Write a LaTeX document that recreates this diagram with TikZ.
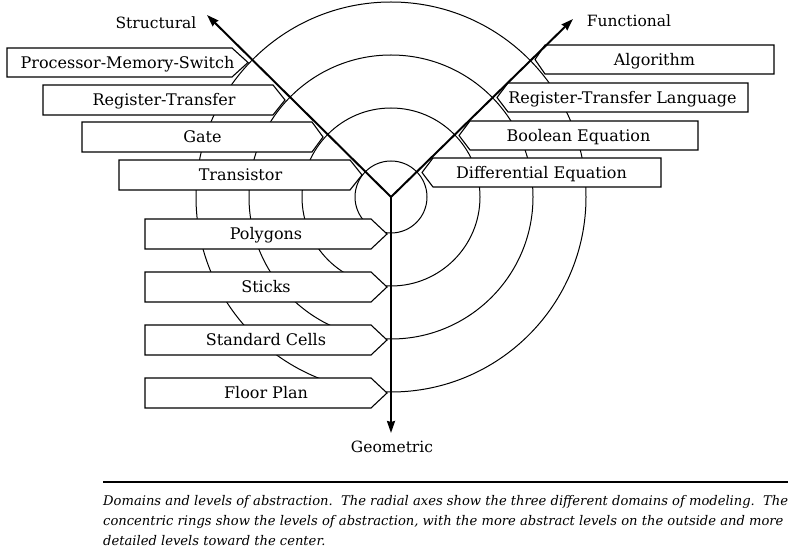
\documentclass[tikz,border=0pt]{standalone}
\usepackage{fontspec}
\usepackage{graphicx}
\setmainfont{DejaVu Serif}
\usetikzlibrary{arrows.meta}
\newlength\capw
\newcommand\capA{Domains and levels of abstraction.\ \ The radial axes show the three different domains of modeling.\ \ The}
\newcommand\capB{concentric rings show the levels of abstraction, with the more abstract levels on the outside and more}
\newcommand\capC{detailed levels toward the center.}
\newcommand\capfont{\fontsize{13.3}{15}\selectfont\itshape}
% left tag pointing right: name, left, top, bottom, body end, tip, text
\newcommand\tagL[7]{%
  \draw[tagbox] (#2,#3) -- (#5,#3) -- (#6,{(#3+#4)/2}) -- (#5,#4) -- (#2,#4) -- cycle;
  \node[tagtext] (#1) at ({(#2+#6)/2},{(#3+#4)/2+5.9}) {#7};}
% right tag pointing left: name, tip, body start, right, top, bottom, text
\newcommand\tagR[7]{%
  \draw[tagbox] (#2,{(#5+#6)/2}) -- (#3,#5) -- (#4,#5) -- (#4,#6) -- (#3,#6) -- cycle;
  \node[tagtext] (#1) at ({(#2+#4)/2},{(#5+#6)/2+5.9}) {#7};}
\begin{document}
\settowidth{\capw}{\capfont\capA}%
\pgfmathsetmacro\capsx{685pt/\capw}%
\begin{tikzpicture}[x=1pt,y=-1pt,
  axis/.style={line width=2pt,-{Stealth[length=12pt,width=8pt,inset=1pt]}},
  ring/.style={line width=1pt},
  tagbox/.style={draw,line width=1.1pt,fill=white,line join=miter},
  tagtext/.style={font=\fontsize{16}{19}\selectfont, inner sep=0pt, anchor=base},
  axislabel/.style={font=\fontsize{15.5}{19}\selectfont, inner sep=0pt, anchor=base},
  captext/.style={font=\capfont, inner sep=0pt, anchor=base west},
]
\useasboundingbox[fill=white] (0,0) rectangle (800,553);
\coordinate (c) at (391,197);
\foreach \r in {36,89,142,195} \draw[ring] (c) circle[radius=\r pt];

\tagL{pms}{7}{48}{77}{232}{248}{Processor-Memory-Switch}
\tagL{rt}{43}{85}{115}{273}{285}{Register-Transfer}
\tagL{gate}{82}{122}{152}{312}{323}{Gate}
\tagL{trans}{119}{160}{190}{350}{362}{Transistor}

\tagL{poly}{145}{219}{249}{371}{387}{Polygons}
\tagL{sticks}{145}{272}{302}{371}{387}{Sticks}
\tagL{cells}{145}{325}{355}{371}{387}{Standard Cells}
\tagL{floor}{145}{378}{408}{371}{387}{Floor Plan}

\tagR{alg}{535}{545}{774}{45}{74}{Algorithm}
\tagR{rtl}{497}{508}{748}{83}{112}{Register-Transfer Language}
\tagR{bool}{459}{470}{698}{121}{150}{Boolean Equation}
\tagR{diff}{422}{433}{661}{158}{187}{Differential Equation}

\coordinate (st) at (207,15);
\coordinate (fn) at (573,19);
\coordinate (ge) at (391,433);
\draw[axis] (c) -- (st);
\draw[axis] (c) -- (fn);
\draw[axis] (c) -- (ge);

\node[axislabel] (stl) at (156,29) {Structural};
\node[axislabel] (fnl) at (629,27) {Functional};
\node[axislabel] (gel) at (392,452) {Geometric};

\coordinate (r1) at (103,482);
\coordinate (r2) at (788,482);
\draw[line width=1.5pt] (r1) -- (r2);
\node[captext] (cap1) at (103,505) {\scalebox{\capsx}[1]{\capA}};
\node[captext] (cap2) at (103,525) {\scalebox{\capsx}[1]{\capB}};
\node[captext] (cap3) at (103,545) {\scalebox{\capsx}[1]{\capC}};
\end{tikzpicture}
\end{document}
